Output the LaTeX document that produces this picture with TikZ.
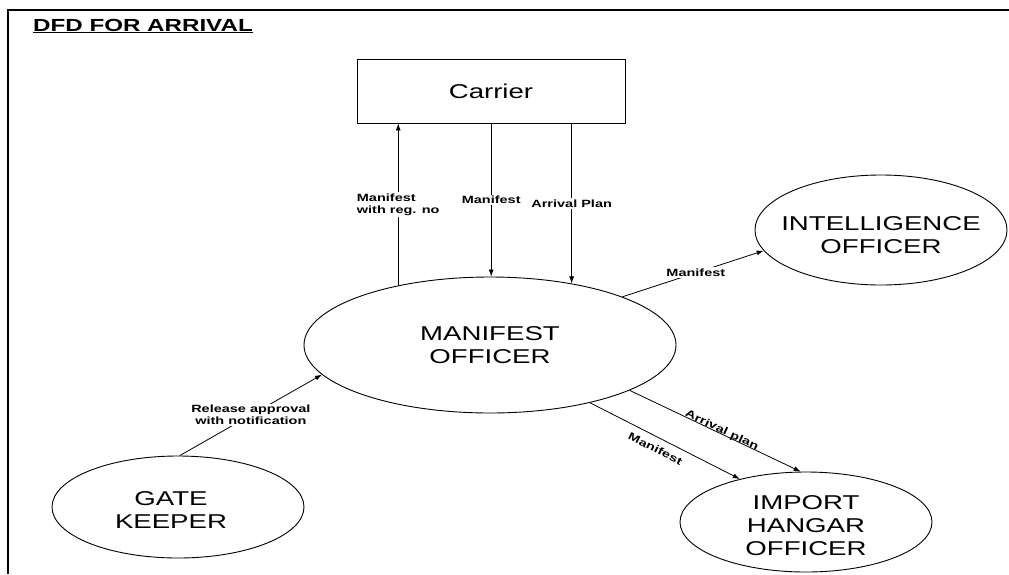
\documentclass[tikz,border=0pt]{standalone}
\usepackage{fontspec}
\setmainfont{Liberation Sans}[FakeStretch=1.38]
\usetikzlibrary{arrows.meta,shapes.geometric}
\begin{document}
\begin{tikzpicture}[x=1pt,y=-1pt,
  flow/.style={line width=0.8pt,-{Latex[length=7pt,width=5pt]}},
  entity/.style={draw,line width=0.9pt,ellipse,inner sep=0pt},
  etext/.style={inner sep=0pt,align=center,font=\fontsize{20}{23}\selectfont},
  lbl/.style={fill=white,inner sep=1.5pt,align=center,font=\fontsize{10.5}{12}\selectfont\bfseries},
  slbl/.style={inner sep=0pt,sloped,font=\fontsize{10.5}{12}\selectfont\bfseries},
]
\useasboundingbox (0,0) rectangle (1009,574);

% page frame and heading
\draw[line width=1.2pt] (8,574) -- (8,10) -- (1009,10);
\node[anchor=base west,inner sep=0pt,font=\fontsize{17.5}{20}\selectfont\bfseries] (title) at (33,31) {\underline{DFD FOR ARRIVAL}};

% external entity
\node[draw,line width=0.9pt,minimum width=268pt,minimum height=64pt,inner sep=0pt,
      font=\fontsize{20}{23}\selectfont] (carrier) at (491,91) {Carrier};

% processes
\node[entity,minimum width=372pt,minimum height=136pt] (mo) at (490,345) {};
\node[etext] (motext) at (mo.center) {MANIFEST\\OFFICER};

\node[entity,minimum width=252pt,minimum height=110pt] (io) at (881,230) {};
\node[etext] (iotext) at ([yshift=-5pt]io.center) {INTELLIGENCE\\OFFICER};

\node[entity,minimum width=252pt,minimum height=100pt] (iho) at (806,522) {};
\node[etext] (ihotext) at ([yshift=-4pt]iho.center) {IMPORT\\HANGAR\\OFFICER};

\node[entity,minimum width=252pt,minimum height=102pt] (gk) at (178,507) {};
\node[etext] (gktext) at ([xshift=-7pt,yshift=-3pt]gk.center) {GATE\\KEEPER};

% flows between carrier and manifest officer
\draw[flow] (mo.147.6) -- (mo.147.6 |- carrier.south)
  node[lbl,pos=0.5,align=left] (l1) {Manifest\\with reg. no};
\draw[flow] (carrier.south -| mo.89) -- (mo.89)
  node[lbl,pos=0.5] (l2) {Manifest};
\draw[flow] (carrier.south -| mo.37.5) -- (mo.37.5)
  node[lbl,pos=0.5] (l3) {Arrival Plan};

% flows to the officers
\draw[flow] (mo.20) -- (io.190) node[lbl,pos=0.52] (l4) {Manifest};
\draw[flow] (mo.330.75) -- (iho.147) node[slbl,pos=0.47,below=7pt] (l5) {Manifest};
\draw[flow] (mo.342.8) -- (iho.96.7) node[slbl,pos=0.53,above=-2pt] (l6) {Arrival plan};
\draw[flow] (gk.88) -- (mo.190) node[lbl,pos=0.5] (l7) {Release approval\\with notification};
\end{tikzpicture}
\end{document}
